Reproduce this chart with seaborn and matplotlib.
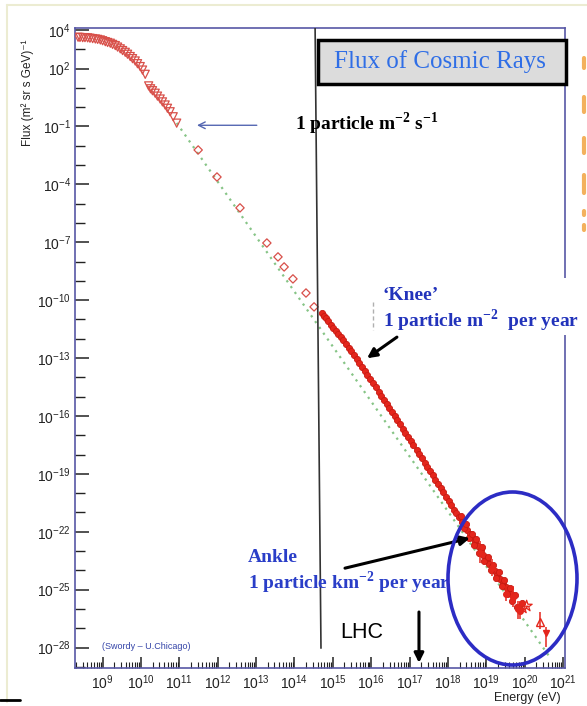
import numpy as np
import pandas as pd
import matplotlib
matplotlib.use("Agg")
import matplotlib.pyplot as plt
import seaborn as sns
from matplotlib.patches import Rectangle, Ellipse
from matplotlib.lines import Line2D
from matplotlib.ticker import FixedLocator, LogLocator, NullFormatter, FuncFormatter

# ---------------- data (log10 values) ----------------
tri_logE = [8.36, 8.41, 8.48, 8.54, 8.61, 8.67, 8.74, 8.81, 8.87, 8.94, 9.00, 9.07, 9.13,
            9.20, 9.26, 9.33, 9.39, 9.46, 9.52, 9.59, 9.65, 9.72, 9.78, 9.85, 9.91, 9.98,
            10.04, 10.11, 10.20, 10.25, 10.30, 10.37, 10.43, 10.50, 10.56, 10.63, 10.69,
            10.76, 10.84, 10.93]
tri_logF = [3.62, 3.61, 3.60, 3.60, 3.59, 3.57, 3.55, 3.53, 3.51, 3.48, 3.44, 3.39, 3.35,
            3.31, 3.25, 3.19, 3.11, 3.02, 2.93, 2.84, 2.74, 2.62, 2.51, 2.39, 2.25, 2.10,
            1.92, 1.70, 1.10, 0.95, 0.85, 0.72, 0.57, 0.42, 0.27, 0.11, -0.06,
            -0.24, -0.50, -0.83]

dia_logE = [11.49, 11.98, 12.58, 13.28, 13.57, 13.73, 13.96, 14.30, 14.51]
dia_logF = [-2.22, -3.62, -5.22, -7.04, -7.76, -8.28, -8.90, -9.63, -10.35]

band_logE = [14.71, 14.76, 14.82, 14.88, 14.95, 15.01, 15.08, 15.14, 15.21, 15.27, 15.34,
             15.41, 15.48, 15.55, 15.62, 15.69, 15.76, 15.83, 15.90, 15.97, 16.05, 16.12,
             16.19, 16.26, 16.33, 16.40, 16.47, 16.54, 16.61, 16.68, 16.75, 16.82, 16.89,
             16.96, 17.03, 17.10, 17.18, 17.25, 17.32, 17.39, 17.46, 17.53, 17.60, 17.67,
             17.74, 17.81, 17.88, 17.95, 18.02, 18.09, 18.16, 18.22, 18.29, 18.36, 18.43,
             18.50, 18.57, 18.64, 18.71, 18.78, 18.85, 18.92, 19.01, 19.08, 19.15, 19.22,
             19.29, 19.36, 19.43, 19.50, 19.57, 19.64,
             18.33, 18.41, 18.47, 18.55, 18.62, 18.69, 18.74, 18.82, 18.88, 18.95, 19.05,
             19.12, 19.18, 19.26, 19.33, 19.40, 19.47, 19.55, 19.61, 19.68, 19.75, 19.80,
             19.87, 19.92]
band_logF = [-10.68, -10.80, -10.95, -11.10, -11.27, -11.45, -11.60, -11.74, -11.91, -12.06,
             -12.26, -12.46, -12.66, -12.86, -13.06, -13.26, -13.46, -13.66, -13.86, -14.07,
             -14.31, -14.52, -14.74, -14.95, -15.16, -15.37, -15.59, -15.80, -16.01, -16.23,
             -16.44, -16.66, -16.87, -17.09, -17.30, -17.52, -17.76, -17.98, -18.20, -18.42,
             -18.64, -18.86, -19.08, -19.30, -19.52, -19.74, -19.96, -20.18, -20.41, -20.63,
             -20.85, -21.04, -21.25, -21.47, -21.68, -21.90, -22.11, -22.33, -22.54, -22.76,
             -22.97, -23.18, -23.46, -23.66, -23.85, -24.05, -24.25, -24.44, -24.64, -24.84,
             -25.03, -25.23,
             -21.2, -21.8, -21.6, -22.3, -22.1, -22.7, -22.4, -23.1, -22.8, -23.5, -23.3,
             -24.0, -23.7, -24.4, -24.1, -24.8, -24.5, -25.2, -24.9, -25.6, -25.3, -25.9,
             -26.0, -25.7]

err_logE = [18.83, 19.15, 19.50, 19.69, 19.83, 19.87]
err_logF = [-23.1, -23.9, -25.2, -25.4, -26.0, -26.1]
err_lo = [0.5, 0.4, 0.4, 0.5, 0.5, 0.4]
err_hi = [0.6, 0.5, 0.4, 0.6, 0.4, 0.5]

star_logE = [19.95, 20.05]
star_logF = [-25.95, -25.85]

up_logE = [20.39]
up_logF = [-26.66]
up_lo = [0.4]
up_hi = [0.5]

down_logE = [20.55]
down_logF = [-27.24]
down_lo = [0.75]
down_hi = [0.3]

green_logE = [10.93, 20.65]
green_logF = [-0.82, -28.49]

x_tick_exp = list(range(9, 22))
y_label_exp = [4, 2, -1, -4, -7, -10, -13, -16, -19, -22, -25, -28]
y_minor_exp = [e for e in range(-29, 5) if e not in y_label_exp]

# ---------------- style ----------------
sns.set_theme(style="white")
plt.rcParams["font.family"] = ["Liberation Sans", "DejaVu Sans"]
plt.rcParams["mathtext.fontset"] = "custom"
plt.rcParams["mathtext.rm"] = "Liberation Sans"
plt.rcParams["mathtext.it"] = "Liberation Sans:italic"
plt.rcParams["mathtext.bf"] = "Liberation Serif:bold"

W, H = 587, 706
fig = plt.figure(figsize=(W / 100, H / 100), dpi=100)
fig.patch.set_facecolor("white")
ax = fig.add_axes([75 / W, 1 - 668 / H, 490 / W, 640 / H])
ax.set_facecolor("white")

def P(a):
    return 10.0 ** np.asarray(a, dtype=float)

red = "#e4261c"
red_open = "#d8504a"

# green reference power law
sns.lineplot(x=P(green_logE), y=P(green_logF), ax=ax, color="#86c486",
             linestyle=(0, (1, 2.2)), linewidth=1.6, zorder=2)

# open down-triangles (low energy)
sns.scatterplot(x=P(tri_logE), y=P(tri_logF), ax=ax, marker="v", s=34,
                facecolor="none", edgecolor=red_open, linewidth=0.9, zorder=3)
# open diamonds
sns.scatterplot(x=P(dia_logE), y=P(dia_logF), ax=ax, marker="D", s=18,
                facecolor="none", edgecolor=red_open, linewidth=0.9, zorder=3)
# dense filled band
sns.scatterplot(x=P(band_logE), y=P(band_logF), ax=ax, marker="o", s=20,
                color=red, edgecolor="#c81a12", linewidth=0.6, zorder=3)

# error bars
eF = P(err_logF)
ax.errorbar(P(err_logE), eF,
            yerr=[eF - eF * P(np.negative(err_lo)), eF * P(err_hi) - eF],
            fmt="o", ms=4, color=red, ecolor=red, elinewidth=1.1, capsize=0, zorder=4)
sns.scatterplot(x=P(star_logE), y=P(star_logF), ax=ax, marker="*", s=70,
                facecolor="none", edgecolor=red, linewidth=0.9, zorder=4)
uF = P(up_logF)
ax.errorbar(P(up_logE), uF, yerr=[uF - uF * P(np.negative(up_lo)), uF * P(up_hi) - uF],
            fmt="^", ms=6, mfc="none", mec=red, ecolor=red, elinewidth=1.1, capsize=0, zorder=4)
dF = P(down_logF)
ax.errorbar(P(down_logE), dF, yerr=[dF - dF * P(np.negative(down_lo)), dF * P(down_hi) - dF],
            fmt="v", ms=5, color=red, ecolor=red, elinewidth=1.1, capsize=0, zorder=4)

# ---------------- axes ----------------
ax.set_xscale("log")
ax.set_yscale("log")
ax.set_xlim(10 ** 8.28, 10 ** 21.05)
ax.set_ylim(10 ** -29.06, 10 ** 4.1)
ax.set_xlabel("")
ax.set_ylabel("")

ax.xaxis.set_major_locator(FixedLocator(P(x_tick_exp)))
ax.xaxis.set_major_formatter(FuncFormatter(lambda v, p: r"$10^{%d}$" % round(np.log10(v))))
ax.xaxis.set_minor_locator(LogLocator(base=10, subs=np.arange(2, 10), numticks=100))
ax.xaxis.set_minor_formatter(NullFormatter())

ax.yaxis.set_major_locator(FixedLocator(P(y_label_exp)))
ax.yaxis.set_major_formatter(FuncFormatter(lambda v, p: r"$10^{%d}$" % round(np.log10(v))))
ax.yaxis.set_minor_locator(FixedLocator(P(y_minor_exp)))
ax.yaxis.set_minor_formatter(NullFormatter())

ax.tick_params(axis="both", which="both", direction="in", colors="#222222",
               labelcolor="#222222")
ax.tick_params(axis="x", which="major", length=8, width=1.1, labelsize=10, pad=4)
ax.tick_params(axis="x", which="minor", length=4, width=0.8)
ax.tick_params(axis="y", which="major", length=10, width=1.1, labelsize=10, pad=3)
ax.tick_params(axis="y", which="minor", length=7, width=1.0)
ax.tick_params(top=False, right=False, left=True, bottom=True, which="both")

for s in ax.spines.values():
    s.set_color("#5858a6")
    s.set_linewidth(1.2)

# ---------------- annotations ----------------
# vertical black line
ax.add_line(Line2D([0.490, 0.502], [1.0, 0.031], transform=ax.transAxes,
                   color="#333333", lw=1.2, zorder=5))

# title box
ax.add_patch(Rectangle((0.496, 0.9125), 0.506, 0.0685, transform=ax.transAxes,
                       facecolor="#dcdcdc", edgecolor="black", lw=2.5, zorder=6, clip_on=False))
ax.text(0.745, 0.947, "Flux of Cosmic Rays", transform=ax.transAxes, ha="center", va="center",
        fontsize=18, color="#2f6ee6", family=["Liberation Serif", "DejaVu Serif"], zorder=7)

serif_b = dict(family=["Liberation Serif", "DejaVu Serif"], fontweight="bold")

ax.text(0.449, 0.851, r"1 particle m$^{\mathbf{-2}}$ s$^{\mathbf{-1}}$", transform=ax.transAxes,
        ha="left", va="center", fontsize=14, color="black", zorder=7, **serif_b)
ax.annotate("", xy=(0.249, 0.848), xytext=(0.371, 0.848), xycoords="axes fraction",
            arrowprops=dict(arrowstyle="->", color="#5567b2", lw=1.0, mutation_scale=12,
                            shrinkA=0, shrinkB=0))

# knee
fig.patches.append(Rectangle((376 / W, 1 - 335 / H), (W - 376) / W, 57 / H,
                             transform=fig.transFigure, facecolor="white", edgecolor="none",
                             zorder=3))
fig.lines.append(Line2D([373 / W, 373 / W], [1 - 302 / H, 1 - 330 / H], transform=fig.transFigure,
                        color="#b0b0b0", lw=1.0, linestyle=(0, (3, 2))))
fig.text(383 / W, 1 - 295 / H, "‘Knee’", ha="left", va="center", fontsize=14,
         color="#2233bb", zorder=8, **serif_b)
fig.text(383 / W, 1 - 320 / H, r"1 particle m$^{\mathbf{-2}}$  per year", ha="left", va="center",
         fontsize=14, color="#2233bb", zorder=8, **serif_b)
ax.annotate("", xy=(0.596, 0.484), xytext=(0.657, 0.517), xycoords="axes fraction",
            arrowprops=dict(arrowstyle="-|>", color="black", lw=2.2, mutation_scale=14,
                            shrinkA=0, shrinkB=0), zorder=8)

# ankle
ax.text(0.353, 0.173, "Ankle", transform=ax.transAxes, ha="left", va="center", fontsize=14,
        color="#2a3ec8", zorder=8, **serif_b)
ax.text(0.353, 0.134, r"1 particle km$^{\mathbf{-2}}$ per year", transform=ax.transAxes, ha="left",
        va="center", fontsize=14, color="#2a3ec8", zorder=8, **serif_b)
ax.annotate("", xy=(0.806, 0.203), xytext=(0.551, 0.156), xycoords="axes fraction",
            arrowprops=dict(arrowstyle="-|>", color="black", lw=2.2, mutation_scale=14,
                            shrinkA=0, shrinkB=0), zorder=8)

# LHC
ax.text(0.541, 0.056, "LHC", transform=ax.transAxes, ha="left", va="center", fontsize=15.5,
        color="black", zorder=8)
ax.annotate("", xy=(0.702, 0.008), xytext=(0.702, 0.0875), xycoords="axes fraction",
            arrowprops=dict(arrowstyle="-|>", color="black", lw=2.2, mutation_scale=14,
                            shrinkA=0, shrinkB=0), zorder=8)

# source
ax.text(0.055, 0.033, "(Swordy – U.Chicago)", transform=ax.transAxes, ha="left", va="center",
        fontsize=6.5, color="#3444a8", zorder=8)

# ellipse
fig.patches.append(Ellipse((512.5 / W, 1 - 578.5 / H), 129 / W, 173 / H,
                           transform=fig.transFigure, facecolor="none",
                           edgecolor="#2c2cc4", lw=2.6, zorder=9))

# axis titles
fig.text(28 / W, 1 - 93 / H, "Flux (m² sr s GeV)⁻¹", rotation=90, ha="center", va="center",
         fontsize=8.5, color="#222222")
fig.text(527 / W, 1 - 698 / H, "Energy (eV)", ha="center", va="center", fontsize=9,
         color="#222222")

# slide decorations
fig.lines.append(Line2D([7 / W, 7 / W], [1 - 5 / H, 1 - 702 / H], transform=fig.transFigure,
                        color="#ececd2", lw=1.5))
fig.lines.append(Line2D([7 / W, 1.0], [1 - 5 / H, 1 - 5 / H], transform=fig.transFigure,
                        color="#ececd2", lw=1.5))
fig.lines.append(Line2D([0, 20 / W], [1 - 700 / H, 1 - 700 / H], transform=fig.transFigure,
                        color="black", lw=2))
for y0, y1 in [(58, 68), (97, 112), (138, 153), (175, 193), (211, 215), (225, 230)]:
    fig.lines.append(Line2D([583.5 / W, 583.5 / W], [1 - y0 / H, 1 - y1 / H],
                            transform=fig.transFigure, color="#f2a440", lw=3, alpha=0.85))

fig.savefig("out.png", dpi=100)
